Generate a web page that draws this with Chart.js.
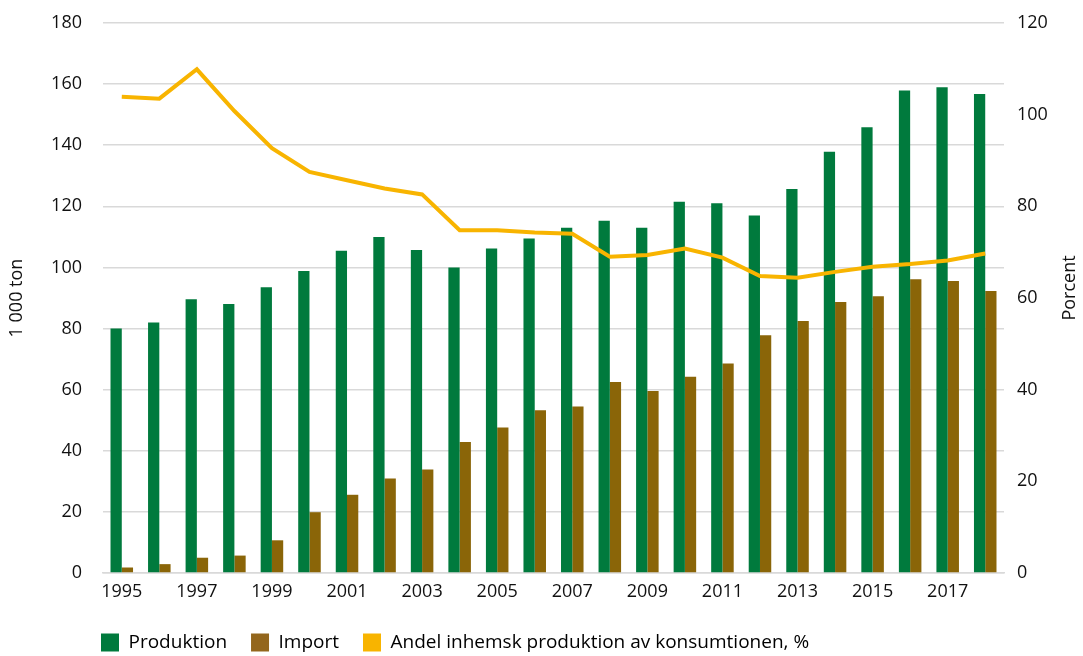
<!DOCTYPE html>
<html><head><meta charset="utf-8">
<script src="https://cdn.jsdelivr.net/npm/chart.js@4"></script>
<style>html,body{margin:0;padding:0;background:#fff}</style>
</head><body>
<canvas id="c" width="1083" height="656"></canvas>
<script>
const years = ['1995','1996','1997','1998','1999','2000','2001','2002','2003','2004','2005','2006','2007','2008','2009','2010','2011','2012','2013','2014','2015','2016','2017','2018'];
const produktion = [80, 82, 89.6, 88, 93.5, 98.8, 105.5, 110, 105.7, 100, 106.2, 109.5, 113, 115.3, 113, 121.5, 121, 117, 125.7, 137.9, 145.9, 157.9, 159, 156.8];
const importVals = [1.8, 2.9, 5, 5.7, 10.7, 19.9, 25.6, 30.9, 33.9, 42.9, 47.6, 53.3, 54.5, 62.5, 59.6, 64.2, 68.6, 77.8, 82.5, 88.7, 90.6, 96.1, 95.6, 92.3];
const andel = [103.9, 103.5, 109.9, 100.8, 92.7, 87.5, 85.7, 83.9, 82.6, 74.8, 74.8, 74.3, 74.0, 69.0, 69.4, 70.8, 68.8, 64.8, 64.4, 65.7, 66.8, 67.4, 68.2, 69.7];
const leftTicks = {min: 0, max: 180, step: 20};
const rightTicks = {min: 0, max: 120, step: 20};
const leftTitle = '1 000 ton';
const rightTitle = 'Porcent';

const GREEN = '#007a3d', BROWN = '#8a6508', YELLOW = '#f8b400', GRID = '#d9d9d9', TEXT = '#111';
const FONT = '"Open Sans", sans-serif';
Chart.defaults.font.family = FONT;
Chart.defaults.font.size = 18;
Chart.defaults.color = TEXT;

const customLayout = {
  id: 'customLayout',
  afterLayout(chart) {
    const lg = chart.legend;
    if (lg) {
      const w = lg.right - lg.left;
      lg.left = 77; lg.right = 77 + w;
      lg.top += 6; lg.bottom += 6;
    }
  },
  afterDraw(chart) {
    const ctx = chart.ctx;
    const ca = chart.chartArea;
    ctx.save();
    ctx.translate(1070, (ca.top + ca.bottom) / 2 - 10);
    ctx.rotate(-Math.PI / 2);
    ctx.font = '18px ' + FONT;
    ctx.fillStyle = TEXT;
    ctx.textAlign = 'center';
    ctx.textBaseline = 'middle';
    ctx.fillText(rightTitle, 0, 0);
    ctx.restore();
  }
};

new Chart(document.getElementById('c'), {
  data: {
    labels: years,
    datasets: [
      {type: 'bar', label: 'Produktion', data: produktion, backgroundColor: GREEN, yAxisID: 'y', order: 1,
       categoryPercentage: 0.6, barPercentage: 1.0},
      {type: 'bar', label: 'Import', data: importVals, backgroundColor: BROWN, yAxisID: 'y', order: 1,
       categoryPercentage: 0.6, barPercentage: 1.0},
      {type: 'line', label: 'Andel inhemsk produktion av konsumtionen, %', data: andel, borderColor: YELLOW,
       backgroundColor: YELLOW, borderWidth: 4, pointRadius: 0, tension: 0, yAxisID: 'y1', order: 0}
    ]
  },
  options: {
    responsive: false,
    animation: false,
    layout: {padding: {top: 23, bottom: 0, left: 0, right: 0}},
    plugins: {
      tooltip: {enabled: false},
      legend: {
        position: 'bottom', align: 'start',
        labels: {
          boxWidth: 18, boxHeight: 18, padding: 24, font: {size: 19},
          generateLabels(chart) {
            return chart.data.datasets.map((d, i) => ({
              text: d.label, fillStyle: d.type === 'line' ? d.borderColor : (i === 1 ? '#93661c' : d.backgroundColor),
              strokeStyle: 'transparent', lineWidth: 0, datasetIndex: i, hidden: false
            }));
          }
        }
      }
    },
    scales: {
      x: {
        grid: {display: false, drawTicks: false},
        border: {display: true, color: GRID, width: 1.5},
        ticks: {autoSkip: false, maxRotation: 0, padding: 8,
          callback(v, i) { return i % 2 === 0 ? this.getLabelForValue(v) : ''; }},
        afterFit(s) { s.height = 30; s.paddingLeft = 0; s.paddingRight = 0; }
      },
      y: {
        position: 'left', min: leftTicks.min, max: leftTicks.max,
        ticks: {stepSize: leftTicks.step, padding: 21},
        grid: {color: GRID, lineWidth: 1.5, drawTicks: false},
        border: {display: false},
        title: {display: true, text: leftTitle, padding: {top: 6, bottom: 0}},
        afterFit(s) { s.width = 103; s.paddingTop = 0; s.paddingBottom = 0; }
      },
      y1: {
        position: 'right', min: rightTicks.min, max: rightTicks.max,
        ticks: {stepSize: rightTicks.step, padding: 13},
        grid: {drawOnChartArea: false, drawTicks: false},
        border: {display: false},
        title: {display: false},
        afterFit(s) { s.width = 79; s.paddingTop = 0; s.paddingBottom = 0; }
      }
    }
  },
  plugins: [customLayout]
});
</script>
</body></html>
